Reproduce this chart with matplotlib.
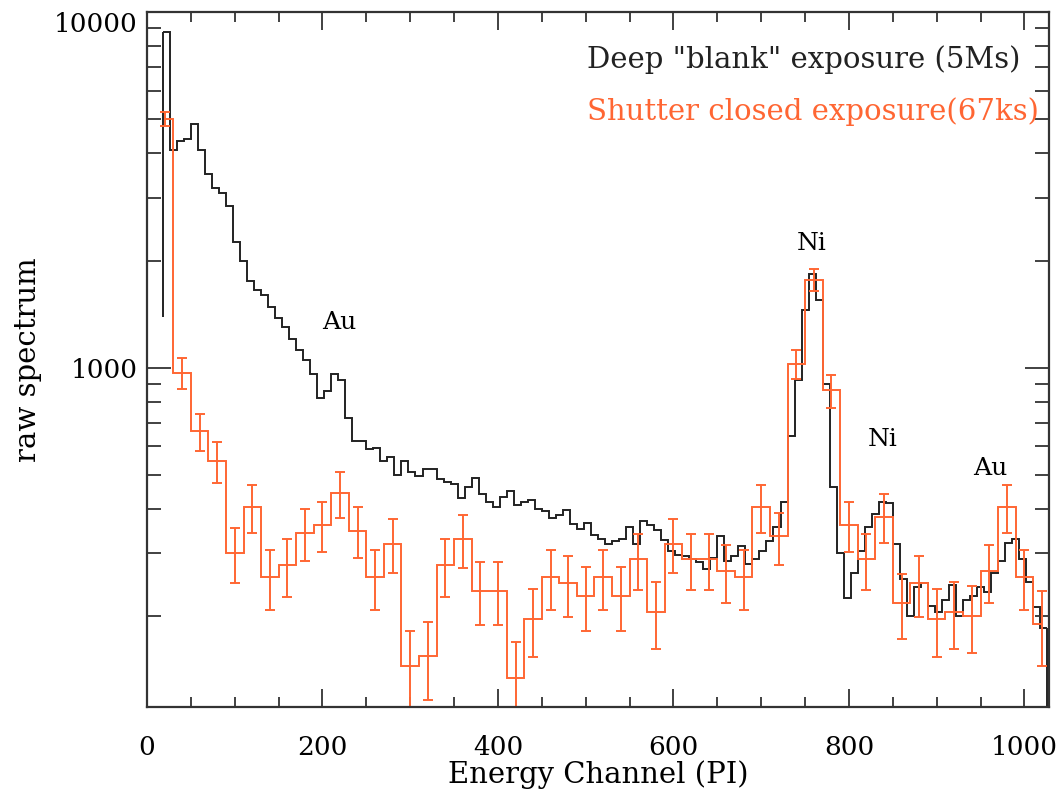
import numpy as np
import matplotlib
matplotlib.use('Agg')
import matplotlib.pyplot as plt
from matplotlib.ticker import MultipleLocator, LogLocator, NullFormatter

plt.rcParams['font.family'] = ['DejaVu Serif']

#Deep blank exposure, 8 channel bins starting at channel 18
black_start = 1390
black_edges = np.arange(18, 1027, 8)
black_vals = [8800, 4100, 4350, 4400, 4850, 4100, 3500, 3200, 3100, 2850,
              2250, 2000, 1750, 1650, 1600, 1480, 1380, 1300, 1200, 1120,
              1050, 960, 820, 860, 960, 920, 720, 620, 620, 590,
              595, 545, 560, 500, 545, 510, 495, 520, 520, 485,
              478, 470, 430, 462, 490, 440, 420, 405, 432, 450,
              410, 420, 425, 400, 395, 378, 385, 398, 362, 352,
              365, 338, 330, 318, 325, 330, 356, 318, 370, 360,
              350, 328, 305, 298, 296, 290, 284, 272, 292, 335,
              286, 296, 314, 280, 290, 305, 325, 355, 420, 640,
              920, 1450, 1830, 1550, 900, 460, 300, 225, 265, 305,
              355, 388, 420, 415, 320, 255, 200, 242, 248, 213,
              205, 222, 245, 200, 222, 228, 242, 234, 265, 285,
              322, 330, 290, 250, 212, 185]

#Shutter closed exposure, 20 channel bins (IDL style: first/last bins half drawn)
orange_centers = np.arange(20, 1021, 20)
orange_vals = [5000, 968, 661, 545, 300, 405, 257, 278, 342, 360,
               443, 348, 257, 320, 145, 154, 278, 329, 236, 236,
               134, 196, 257, 247, 228, 257, 228, 289, 206, 320,
               289, 289, 267, 257, 405, 335, 1026, 1767, 862, 360,
               289, 381, 217, 247, 196, 206, 200, 267, 405, 257,
               190]
orange_err = [230, 95, 79, 72, 53, 62, 49, 51, 57, 58,
              65, 57, 49, 55, 37, 38, 51, 56, 47, 47,
              35, 43, 49, 48, 46, 49, 46, 52, 44, 55,
              52, 52, 50, 49, 62, 56, 98, 129, 90, 58,
              52, 60, 45, 48, 43, 44, 43, 50, 62, 49,
              45]

line_labels = ['Deep "blank" exposure (5Ms)', 'Shutter closed exposure(67ks)']
notes = ['Au', 'Ni', 'Ni', 'Au']
note_x = [200, 741, 822, 942]
note_y = [1280, 2140, 600, 500]

xtick_vals = [0, 200, 400, 600, 800, 1000]
ytick_vals = [1000, 10000]
ytick_labels = ['1000', '10000']

black = '#222222'
orange = '#ff6633'

fig = plt.figure(figsize=(10.64, 7.89), dpi=100)
ax = fig.add_axes([147/1064, 1 - 707/789, 902/1064, 695/789])

ax.stairs(black_vals, black_edges, baseline=None, color=black, lw=1.4)
ax.vlines(black_edges[0], black_start, black_vals[0], color=black, lw=1.4)
ax.vlines(black_edges[-1], 1, black_vals[-1], color=black, lw=1.4)

o_edges = np.concatenate([[orange_centers[0]], orange_centers[:-1] + 10, [orange_centers[-1]]])
ax.stairs(orange_vals, o_edges, baseline=None, color=orange, lw=1.4)
ax.errorbar(orange_centers, orange_vals, yerr=orange_err, fmt='none',
            ecolor=orange, elinewidth=1.4, capsize=3.6, capthick=1.4)

ax.set_yscale('log')
ax.set_xlim(0, 1028)
ax.set_ylim(111, 10000)

ax.set_xticks(xtick_vals)
ax.xaxis.set_minor_locator(MultipleLocator(50))
ax.set_yticks(ytick_vals, labels=ytick_labels)
ax.yaxis.set_minor_locator(LogLocator(base=10, subs=np.arange(2, 10)))
ax.yaxis.set_minor_formatter(NullFormatter())

ax.tick_params(which='both', direction='in', top=True, right=True,
               colors='#333333', width=1.3, labelsize=19, labelcolor='black')
ax.tick_params(axis='x', which='major', length=13, pad=20)
ax.tick_params(axis='x', which='minor', length=7)
ax.tick_params(axis='y', which='major', length=17, pad=7)
ax.tick_params(axis='y', which='minor', length=10)
for s in ax.spines.values():
    s.set_color('#333333')
    s.set_linewidth(1.6)

#top label sits just under the frame corner
ax.get_yticklabels()[-1].set_va('top')

ax.set_xlabel('Energy Channel (PI)', fontsize=21, labelpad=0)
ax.set_ylabel('raw spectrum', fontsize=21, labelpad=8)

ax.text(0.488, 0.919, line_labels[0], transform=ax.transAxes, fontsize=21,
        color=black, va='baseline')
ax.text(0.488, 0.845, line_labels[1], transform=ax.transAxes, fontsize=21,
        color=orange, va='baseline')

for t, x, y in zip(notes, note_x, note_y):
    ax.text(x, y, t, fontsize=18, va='baseline', ha='left')

fig.savefig('out.png', dpi=100)
